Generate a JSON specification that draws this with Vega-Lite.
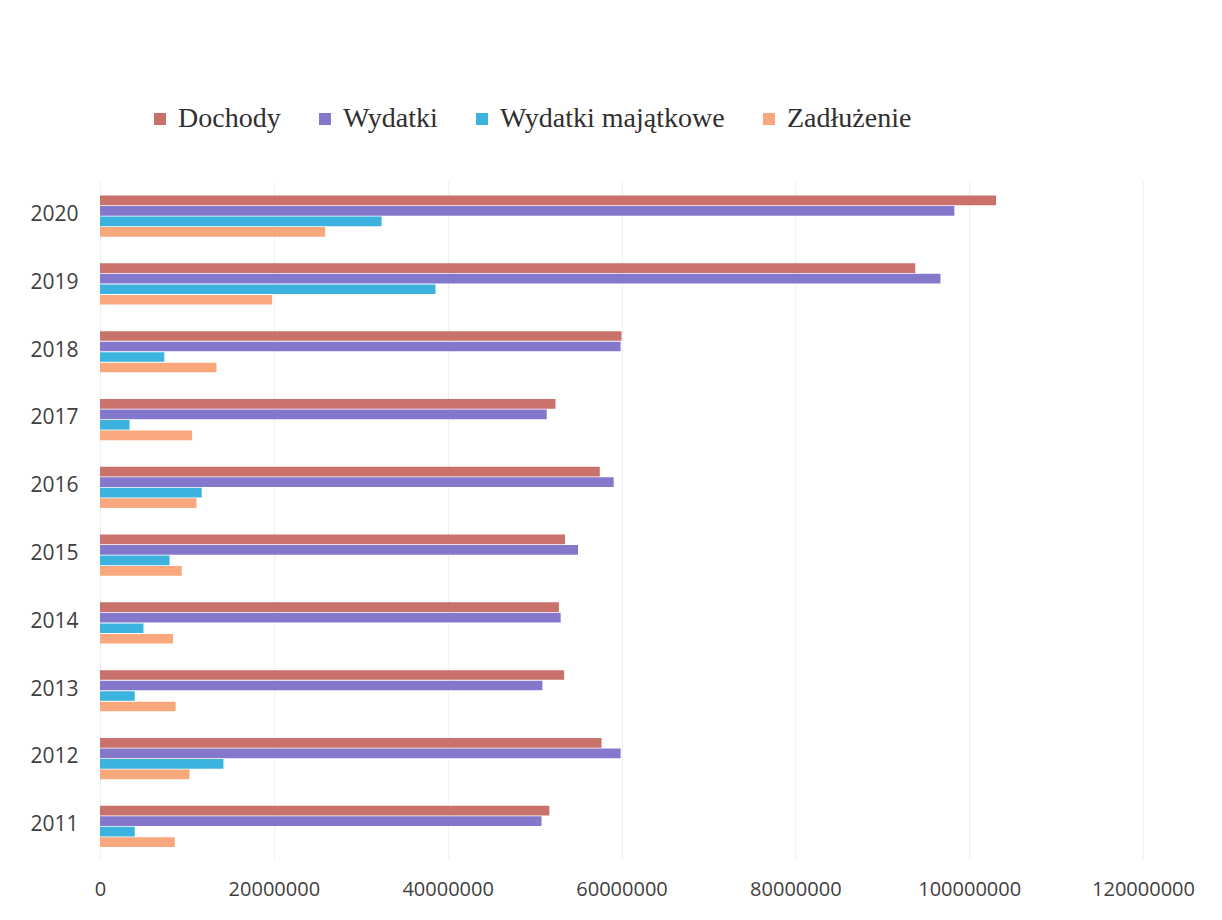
{
  "$schema": "https://vega.github.io/schema/vega-lite/v6.json",
  "autosize": "none",
  "width": 1043,
  "height": 678,
  "padding": {"left": 100, "top": 181, "right": 79, "bottom": 61},
  "background": "white",
  "data": {
    "values": [
      {"rok": "2020", "seria": "Dochody", "wartosc": 103100000},
      {"rok": "2020", "seria": "Wydatki", "wartosc": 98300000},
      {"rok": "2020", "seria": "Wydatki majątkowe", "wartosc": 32400000},
      {"rok": "2020", "seria": "Zadłużenie", "wartosc": 25900000},
      {"rok": "2019", "seria": "Dochody", "wartosc": 93800000},
      {"rok": "2019", "seria": "Wydatki", "wartosc": 96700000},
      {"rok": "2019", "seria": "Wydatki majątkowe", "wartosc": 38600000},
      {"rok": "2019", "seria": "Zadłużenie", "wartosc": 19800000},
      {"rok": "2018", "seria": "Dochody", "wartosc": 60000000},
      {"rok": "2018", "seria": "Wydatki", "wartosc": 59900000},
      {"rok": "2018", "seria": "Wydatki majątkowe", "wartosc": 7400000},
      {"rok": "2018", "seria": "Zadłużenie", "wartosc": 13400000},
      {"rok": "2017", "seria": "Dochody", "wartosc": 52400000},
      {"rok": "2017", "seria": "Wydatki", "wartosc": 51400000},
      {"rok": "2017", "seria": "Wydatki majątkowe", "wartosc": 3400000},
      {"rok": "2017", "seria": "Zadłużenie", "wartosc": 10600000},
      {"rok": "2016", "seria": "Dochody", "wartosc": 57500000},
      {"rok": "2016", "seria": "Wydatki", "wartosc": 59100000},
      {"rok": "2016", "seria": "Wydatki majątkowe", "wartosc": 11700000},
      {"rok": "2016", "seria": "Zadłużenie", "wartosc": 11100000},
      {"rok": "2015", "seria": "Dochody", "wartosc": 53500000},
      {"rok": "2015", "seria": "Wydatki", "wartosc": 55000000},
      {"rok": "2015", "seria": "Wydatki majątkowe", "wartosc": 8000000},
      {"rok": "2015", "seria": "Zadłużenie", "wartosc": 9400000},
      {"rok": "2014", "seria": "Dochody", "wartosc": 52800000},
      {"rok": "2014", "seria": "Wydatki", "wartosc": 53000000},
      {"rok": "2014", "seria": "Wydatki majątkowe", "wartosc": 5000000},
      {"rok": "2014", "seria": "Zadłużenie", "wartosc": 8400000},
      {"rok": "2013", "seria": "Dochody", "wartosc": 53400000},
      {"rok": "2013", "seria": "Wydatki", "wartosc": 50900000},
      {"rok": "2013", "seria": "Wydatki majątkowe", "wartosc": 4000000},
      {"rok": "2013", "seria": "Zadłużenie", "wartosc": 8700000},
      {"rok": "2012", "seria": "Dochody", "wartosc": 57700000},
      {"rok": "2012", "seria": "Wydatki", "wartosc": 59900000},
      {"rok": "2012", "seria": "Wydatki majątkowe", "wartosc": 14200000},
      {"rok": "2012", "seria": "Zadłużenie", "wartosc": 10300000},
      {"rok": "2011", "seria": "Dochody", "wartosc": 51700000},
      {"rok": "2011", "seria": "Wydatki", "wartosc": 50800000},
      {"rok": "2011", "seria": "Wydatki majątkowe", "wartosc": 4000000},
      {"rok": "2011", "seria": "Zadłużenie", "wartosc": 8600000}
    ]
  },
  "mark": {"type": "bar", "height": {"band": 0.92}},
  "encoding": {
    "y": {
      "field": "rok",
      "type": "nominal",
      "sort": "descending",
      "scale": {"paddingInner": 0.38, "paddingOuter": 0.19},
      "axis": {
        "title": null,
        "domain": false,
        "ticks": false,
        "labelPadding": 22,
        "labelFont": "Open Sans, sans-serif",
        "labelFontSize": 21,
        "labelColor": "#404040"
      }
    },
    "yOffset": {
      "field": "seria",
      "type": "nominal",
      "sort": ["Dochody", "Wydatki", "Wydatki majątkowe", "Zadłużenie"]
    },
    "x": {
      "field": "wartosc",
      "type": "quantitative",
      "scale": {"domain": [0, 120000000], "nice": false},
      "axis": {
        "title": null,
        "values": [0, 20000000, 40000000, 60000000, 80000000, 100000000, 120000000],
        "format": "d",
        "domain": false,
        "ticks": false,
        "labelFlush": false,
        "labelOverlap": false,
        "labelPadding": 20,
        "labelFont": "Open Sans, sans-serif",
        "labelFontSize": 20,
        "labelColor": "#404040",
        "grid": true,
        "gridColor": "#f0f0f0",
        "gridWidth": 1
      }
    },
    "color": {
      "field": "seria",
      "type": "nominal",
      "scale": {
        "domain": ["Dochody", "Wydatki", "Wydatki majątkowe", "Zadłużenie"],
        "range": ["#c9716b", "#8478cc", "#3cb3de", "#f8a87c"]
      },
      "legend": {
        "title": null,
        "orient": "none",
        "direction": "horizontal",
        "legendX": 46,
        "legendY": -76,
        "symbolType": "square",
        "symbolSize": 144,
        "symbolStrokeWidth": 0,
        "labelFont": "Liberation Serif, DejaVu Serif, serif",
        "labelFontSize": 28,
        "labelColor": "#303030",
        "labelOffset": 4,
        "columnPadding": 30,
        "labelLimit": 400
      }
    }
  },
  "config": {
    "view": {"stroke": null}
  }
}
